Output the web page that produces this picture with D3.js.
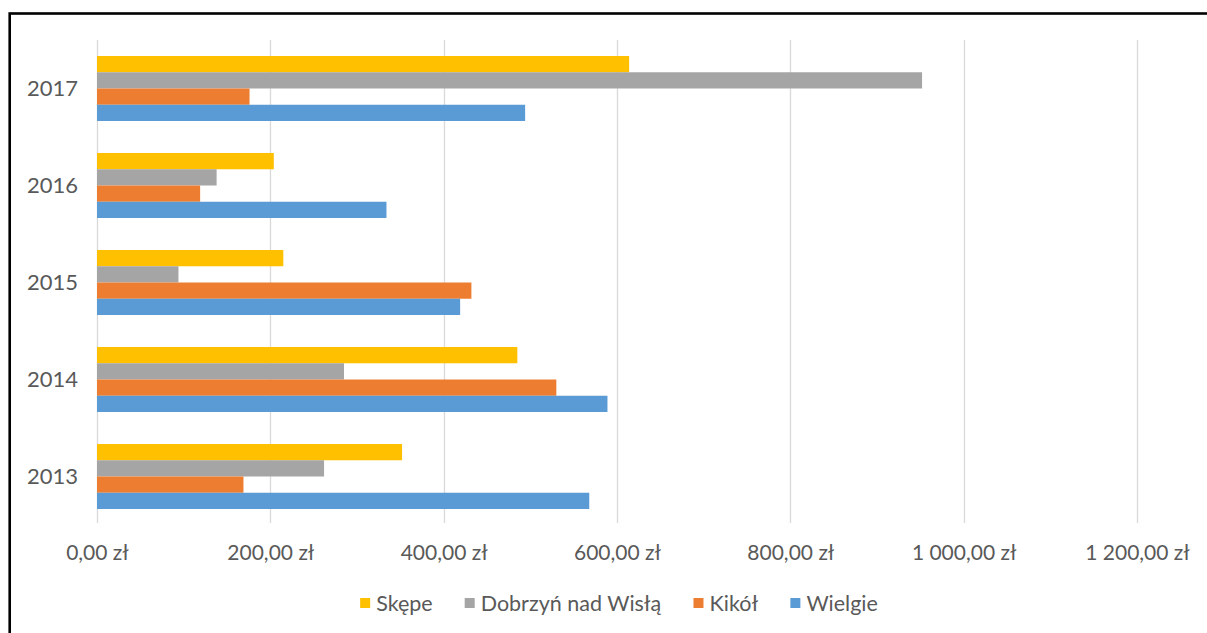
<!DOCTYPE html>
<html>
<head>
<meta charset="utf-8">
<script src="https://cdn.jsdelivr.net/npm/d3@7"></script>
<style>
  html, body { margin: 0; padding: 0; background: #fff; }
  svg { display: block; }
  text { font-family: Lato, "Open Sans", sans-serif; fill: #595959; }
</style>
</head>
<body>
<svg id="chart" width="1207" height="633"></svg>
<script>
// ---- data ----
const years = ["2017", "2016", "2015", "2014", "2013"];
const seriesNames = ["Skępe", "Dobrzyń nad Wisłą", "Kikół", "Wielgie"];
const seriesColors = ["#FFC000", "#A5A5A5", "#ED7D31", "#5B9BD5"];
// values in order of years above (2017 → 2013)
const skepe    = [614, 204, 215, 485, 352];
const dobrzyn  = [952, 138, 94, 285, 262];
const kikol    = [176, 119, 432, 530, 169];
const wielgie  = [494, 334, 419, 589, 568];
const tickValues = [0, 200, 400, 600, 800, 1000, 1200];

const seriesValues = [skepe, dobrzyn, kikol, wielgie];

// ---- layout ----
const W = 1207, H = 633;
const plot = { left: 97, right: 1137, top: 40, bottom: 525 };
const svg = d3.select("#chart");

// frame
svg.append("rect")
  .attr("x", 9.7).attr("y", 13.5)
  .attr("width", W + 20).attr("height", H + 20)
  .attr("fill", "none").attr("stroke", "#000").attr("stroke-width", 2.6);

const x = d3.scaleLinear().domain([0, 1200]).range([plot.left, plot.right]);
const y = d3.scaleBand().domain(years).range([plot.top, plot.bottom])
  .paddingInner(0.33).paddingOuter(0.165);
const ySub = d3.scaleBand().domain(seriesNames).range([0, y.bandwidth()]).padding(0);

const locale = d3.formatLocale({ decimal: ",", thousands: "\u00a0", grouping: [3], currency: ["", "\u00a0zł"] });
const fmt = locale.format("$,.2f");

// gridlines
svg.append("g").selectAll("line").data(tickValues).join("line")
  .attr("x1", d => Math.round(x(d)) + 0.5).attr("x2", d => Math.round(x(d)) + 0.5)
  .attr("y1", plot.top).attr("y2", plot.bottom - 2)
  .attr("stroke", "#D9D9D9").attr("stroke-width", 1.3);

// x axis labels
const xAxis = d3.axisBottom(x).tickValues(tickValues).tickFormat(fmt).tickSize(0).tickPadding(0);
const gx = svg.append("g").attr("transform", `translate(0,${553})`).call(xAxis);
gx.select(".domain").remove();
gx.selectAll("text").attr("dy", "0.35em").attr("y", 0)
  .style("font-family", "Lato, sans-serif").style("font-size", "21px").attr("fill", "#595959");

// y axis labels
const yAxis = d3.axisLeft(y).tickSize(0).tickPadding(0);
const gy = svg.append("g").attr("transform", `translate(78,0)`).call(yAxis);
gy.select(".domain").remove();
gy.selectAll("text").attr("dy", "0.35em")
  .style("font-family", "Lato, sans-serif").style("font-size", "22px").attr("fill", "#595959");

// bars
const groups = svg.append("g").selectAll("g").data(years).join("g")
  .attr("transform", d => `translate(0,${y(d)})`);
groups.selectAll("rect")
  .data((yr, i) => seriesNames.map((s, k) => ({ s, k, v: seriesValues[k][i] })))
  .join("rect")
  .attr("x", x(0))
  .attr("y", d => ySub(d.s))
  .attr("width", d => x(d.v) - x(0))
  .attr("height", ySub.bandwidth())
  .attr("fill", d => seriesColors[d.k]);

// legend
const legend = svg.append("g").attr("transform", `translate(0,603)`);
const items = legend.selectAll("g").data(seriesNames).join("g");
items.append("rect").attr("width", 10).attr("height", 10).attr("y", -5)
  .attr("fill", (d, i) => seriesColors[i]);
items.append("text").attr("x", 16).attr("dy", "0.35em")
  .style("font-size", "21.5px").text(d => d);
const widths = [];
items.each(function () { widths.push(this.getBBox().width); });
const gap = 32;
const total = d3.sum(widths) + gap * (widths.length - 1);
let cx = 619 - total / 2;
items.attr("transform", (d, i) => { const t = `translate(${cx},0)`; cx += widths[i] + gap; return t; });
</script>
</body>
</html>
